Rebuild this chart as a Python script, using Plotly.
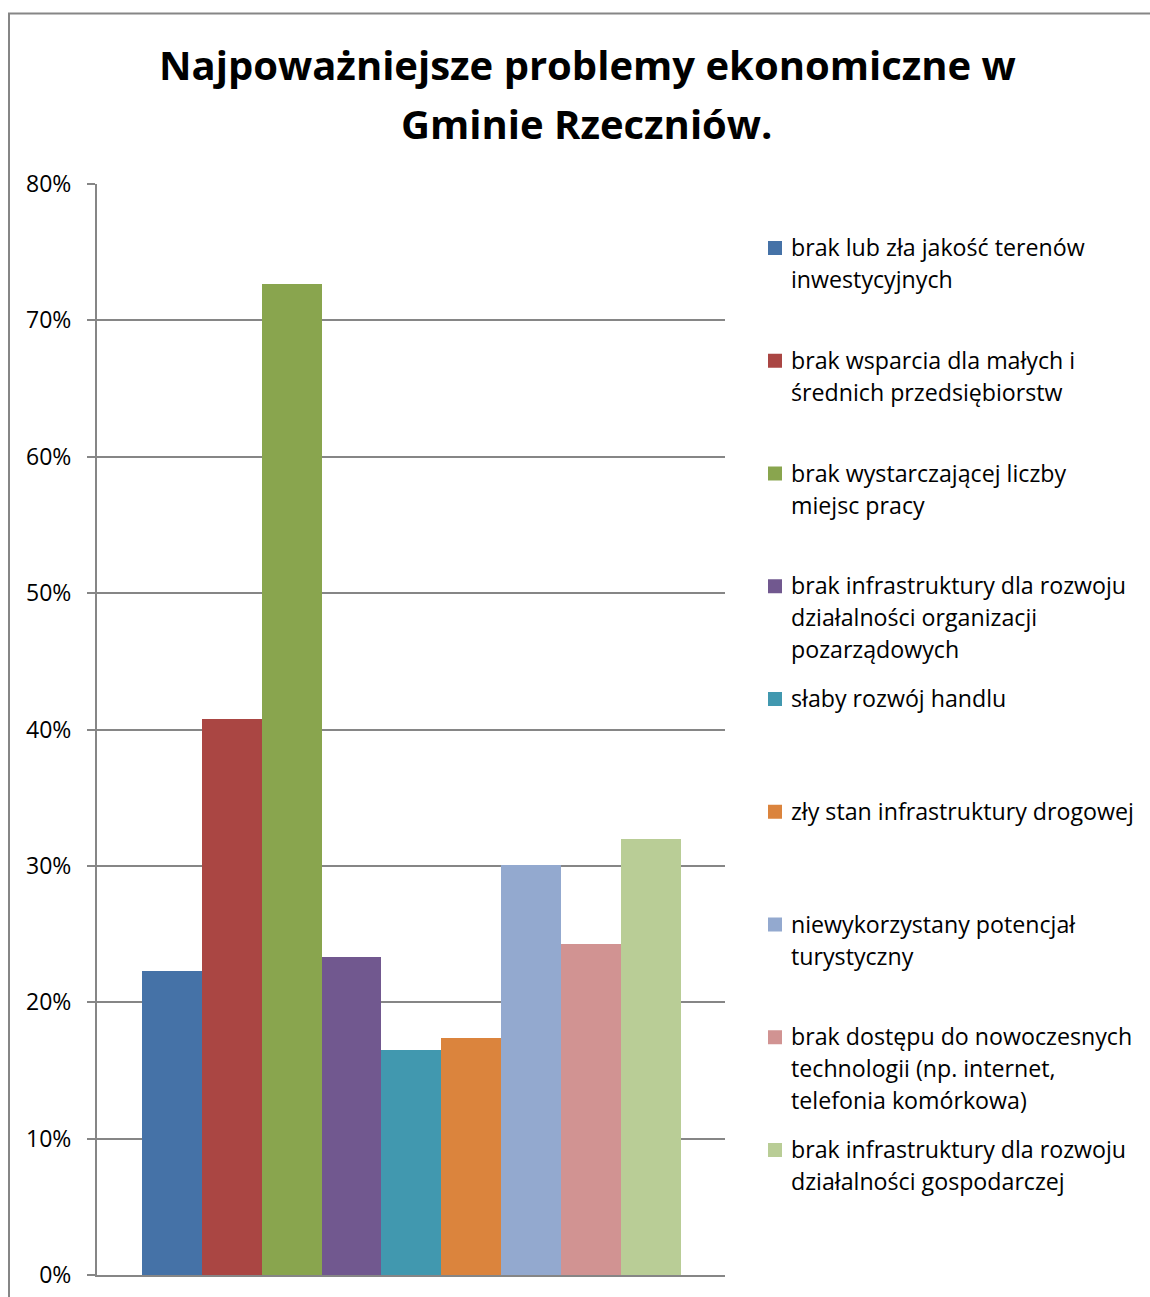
import plotly.graph_objects as go

categories = [
    "brak lub zła jakość terenów<br>inwestycyjnych",
    "brak wsparcia dla małych i<br>średnich przedsiębiorstw",
    "brak wystarczającej liczby<br>miejsc pracy",
    "brak infrastruktury dla rozwoju<br>działalności organizacji<br>pozarządowych",
    "słaby rozwój handlu",
    "zły stan infrastruktury drogowej",
    "niewykorzystany potencjał<br>turystyczny",
    "brak dostępu do nowoczesnych<br>technologii (np. internet,<br>telefonia komórkowa)",
    "brak infrastruktury dla rozwoju<br>działalności gospodarczej",
]
values = [0.223, 0.408, 0.727, 0.233, 0.165, 0.174, 0.301, 0.243, 0.320]
colors = ["#4572A7", "#AA4643", "#89A54E", "#71588F", "#4198AF",
          "#DB843D", "#93A9CF", "#D19392", "#B9CD96"]
title_lines = ["Najpoważniejsze problemy ekonomiczne w", "Gminie Rzeczniów."]
y_ticks = [0, 0.1, 0.2, 0.3, 0.4, 0.5, 0.6, 0.7, 0.8]

FONT = "Open Sans"
GRID = "#868686"

W, H = 1150, 1297
L, R, T, B = 97, 725, 184, 1275   # plot area in page pixels


def px_x(px):
    return (px - L) / (R - L)


def px_y(py):
    return (B - py) / (B - T)


fig = go.Figure()
fig.add_trace(go.Bar(
    x=list(range(len(values))),
    y=values,
    width=1.0,
    marker=dict(color=colors, line=dict(width=0)),
    hovertext=[c.replace("<br>", " ") for c in categories],
    showlegend=False,
))

annotations = []
shapes = []

# title
for line, py in zip(title_lines, [64, 123]):
    annotations.append(dict(
        text="<b>%s</b>" % line, xref="paper", yref="paper",
        x=px_x(587), y=px_y(py), xanchor="center", yanchor="middle",
        showarrow=False, font=dict(family=FONT, size=40, color="#000000"),
    ))

# legend (manual, to keep Excel-like spacing)
first_center = 247
step = 112.75
line_gap = 32
for i, (cat, col) in enumerate(zip(categories, colors)):
    cy = first_center + step * i
    shapes.append(dict(
        type="rect", xref="paper", yref="paper",
        x0=px_x(768), x1=px_x(782), y0=px_y(cy - 6), y1=px_y(cy + 8),
        fillcolor=col, line=dict(width=0),
    ))
    for k, ln in enumerate(cat.split("<br>")):
        annotations.append(dict(
            text=ln, xref="paper", yref="paper",
            x=px_x(789), y=px_y(cy + k * line_gap), xanchor="left", yanchor="middle",
            showarrow=False, font=dict(family=FONT, size=23.2, color="#000000"),
        ))

# outer chart border
shapes.append(dict(
    type="rect", xref="paper", yref="paper",
    x0=px_x(9), x1=px_x(1170), y0=px_y(1320), y1=px_y(13.5),
    line=dict(color=GRID, width=2), fillcolor="rgba(0,0,0,0)", layer="below",
))

fig.update_layout(
    template="none",
    width=W, height=H,
    autosize=False,
    margin=dict(l=L, r=W - R, t=T, b=H - B, pad=0, autoexpand=False),
    paper_bgcolor="white", plot_bgcolor="white",
    bargap=0,
    annotations=annotations,
    shapes=shapes,
    font=dict(family=FONT, color="#000000"),
    xaxis=dict(
        range=[-1.25, 9.24], showticklabels=False, ticks="", showgrid=False,
        zeroline=False, showline=True, linecolor=GRID, linewidth=2,
        fixedrange=True, automargin=False,
    ),
    yaxis=dict(
        range=[0, 0.8], tickvals=y_ticks, tickformat=".0%",
        showgrid=True, gridcolor=GRID, gridwidth=2,
        zeroline=False, showline=True, linecolor=GRID, linewidth=2,
        ticks="outside", ticklen=8, tickcolor=GRID, tickwidth=2,
        tickfont=dict(family=FONT, size=23, color="#000000"),
        ticklabelstandoff=11, fixedrange=True, automargin=False,
    ),
)

fig.write_html(
    "out.html",
    config={"displayModeBar": False},
    post_script="document.body.style.margin='0';document.body.style.overflow='hidden';",
)
